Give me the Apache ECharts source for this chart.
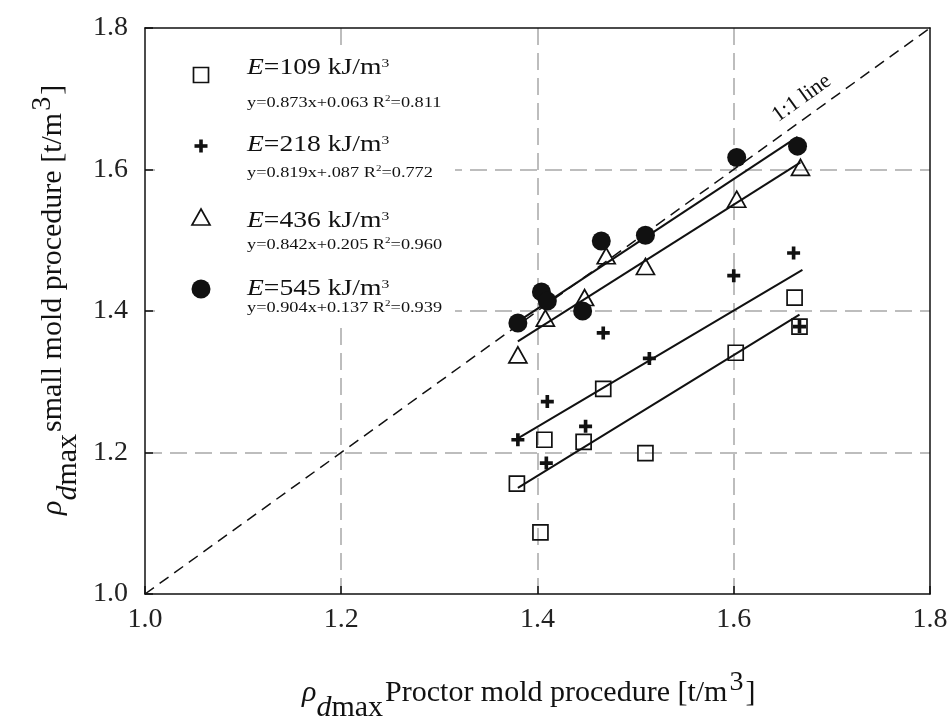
<!DOCTYPE html>
<html><head><meta charset="utf-8">
<script src="https://cdn.jsdelivr.net/npm/echarts@6/dist/echarts.min.js"></script>
<style>html,body{margin:0;padding:0;background:#fff}#c{width:952px;height:727px}</style>
</head><body><div id="c"></div>
<script>
// ---- data ----
const axisMin = 1.0, axisMax = 1.8, axisStep = 0.2;
const e109X = [1.379, 1.403, 1.407, 1.447, 1.467, 1.510, 1.602, 1.662, 1.667];
const e109Y = [1.156, 1.087, 1.218, 1.215, 1.290, 1.199, 1.341, 1.419, 1.378];
const e218X = [1.380, 1.409, 1.410, 1.449, 1.467, 1.514, 1.600, 1.661, 1.667];
const e218Y = [1.218, 1.185, 1.272, 1.237, 1.369, 1.333, 1.450, 1.482, 1.378];
const e436X = [1.380, 1.408, 1.448, 1.470, 1.510, 1.603, 1.668];
const e436Y = [1.338, 1.390, 1.419, 1.478, 1.463, 1.558, 1.603];
const e545X = [1.380, 1.404, 1.410, 1.446, 1.465, 1.510, 1.603, 1.665];
const e545Y = [1.383, 1.427, 1.414, 1.400, 1.499, 1.507, 1.617, 1.633];
const fit109X = [1.380, 1.667], fit109Y = [1.150, 1.395];
const fit218X = [1.380, 1.670], fit218Y = [1.220, 1.458];
const fit436X = [1.380, 1.668], fit436Y = [1.357, 1.610];
const fit545X = [1.380, 1.665], fit545Y = [1.385, 1.646];
const oneToOneX = [1.0, 1.8], oneToOneY = [1.0, 1.8];
const energyLabels = ['109', '218', '436', '545'];
const eqMain = ['y=0.873x+0.063 R', 'y=0.819x+.087 R', 'y=0.842x+0.205 R', 'y=0.904x+0.137 R'];
const eqR2 = ['=0.811', '=0.772', '=0.960', '=0.939'];
const oneToOneText = '1:1 line';

const zip = (xs, ys) => xs.map((x, i) => [x, ys[i]]);
const FF = '"Liberation Serif","Times New Roman",serif';
const mctx = document.createElement('canvas').getContext('2d');
function fontStr(p) { return (p.italic ? 'italic ' : '') + p.size + 'px ' + FF; }
function mw(p) { mctx.font = fontStr(p); return mctx.measureText(p.t).width; }
function piecesGroup(pieces, gx, gy, extra) {
  let x = 0; const children = [];
  for (const p of pieces) {
    x += (p.gap || 0);
    children.push({
      type: 'text', x: x, y: (p.dy || 0) - 0.34 * p.size, z: 10,
      style: { text: p.t, font: fontStr(p), fill: '#111', align: 'left', verticalAlign: 'middle',
               textAlign: 'left', textVerticalAlign: 'middle' }
    });
    x += mw(p);
  }
  return Object.assign({ type: 'group', x: gx, y: gy, z: 10, children: children }, extra || {});
}

const chart = echarts.init(document.getElementById('c'), null, { renderer: 'canvas' });
const axisLineStyle = { color: '#111', width: 1.5 };
const gridLineStyle = { color: '#bdbdbd', width: 2, type: [17, 8] };
const labelStyle = { fontSize: 28, fontFamily: FF, color: '#222', formatter: v => v.toFixed(1) };

function lineSeries(xs, ys, dashed) {
  return { type: 'line', data: zip(xs, ys), symbol: 'none', silent: true, z: 3,
    lineStyle: { color: '#111', width: dashed ? 1.5 : 2, type: dashed ? [11, 7] : 'solid', opacity: 1 } };
}
const plusPath = 'path://M0,3.6H3.6V0H6.4V3.6H10V6.4H6.4V10H3.6V6.4H0Z';

const option = {
  animation: false,
  backgroundColor: '#fff',
  grid: { left: 145, right: 22, top: 28, bottom: 133, containLabel: false, outerBoundsMode: 'none' },
  xAxis: [
    { type: 'value', min: axisMin, max: axisMax, interval: axisStep, position: 'bottom',
      axisLine: { lineStyle: axisLineStyle }, axisTick: { inside: true, length: 8, lineStyle: axisLineStyle },
      axisLabel: Object.assign({ margin: 12 }, labelStyle),
      splitLine: { show: true, showMinLine: false, showMaxLine: false, lineStyle: gridLineStyle } },
    { type: 'value', min: axisMin, max: axisMax, interval: axisStep, position: 'top',
      axisLine: { show: true, lineStyle: axisLineStyle }, axisTick: { show: false }, axisLabel: { show: false }, splitLine: { show: false } }
  ],
  yAxis: [
    { type: 'value', min: axisMin, max: axisMax, interval: axisStep, position: 'left',
      axisLine: { show: true, lineStyle: axisLineStyle }, axisTick: { show: true, inside: true, length: 8, lineStyle: axisLineStyle },
      axisLabel: Object.assign({ margin: 17 }, labelStyle),
      splitLine: { show: true, showMinLine: false, showMaxLine: false, lineStyle: gridLineStyle } },
    { type: 'value', min: axisMin, max: axisMax, interval: axisStep, position: 'right',
      axisLine: { show: true, lineStyle: axisLineStyle }, axisTick: { show: false }, axisLabel: { show: false }, splitLine: { show: false } }
  ],
  series: [
    lineSeries(oneToOneX, oneToOneY, true),
    lineSeries(fit109X, fit109Y),
    lineSeries(fit218X, fit218Y),
    lineSeries(fit436X, fit436Y),
    lineSeries(fit545X, fit545Y),
    { type: 'scatter', name: 'E=109', data: zip(e109X, e109Y), symbol: 'rect', symbolSize: 15, z: 4,
      itemStyle: { color: 'rgba(0,0,0,0)', borderColor: '#111', borderWidth: 1.7, opacity: 1 } },
    { type: 'scatter', name: 'E=218', data: zip(e218X, e218Y), symbol: plusPath, symbolSize: 13, z: 4,
      itemStyle: { color: '#111', opacity: 1 } },
    { type: 'scatter', name: 'E=436', data: zip(e436X, e436Y), symbol: 'triangle', symbolSize: [18, 16], z: 4,
      itemStyle: { color: 'rgba(0,0,0,0)', borderColor: '#111', borderWidth: 1.7, opacity: 1 } },
    { type: 'scatter', name: 'E=545', data: zip(e545X, e545Y), symbol: 'circle', symbolSize: 19, z: 4,
      itemStyle: { color: '#111', opacity: 1 } }
  ]
};
chart.setOption(option);

// ---- annotations ----
const graphics = [];
graphics.push({ type: 'rect', z: 1, shape: { x: 155, y: 45, width: 300, height: 280 }, style: { fill: '#fff' } });
const symX = 201, symY = [75, 146, 217, 289];
graphics.push({ type: 'rect', z: 10, shape: { x: symX - 7.5, y: symY[0] - 7.5, width: 15, height: 15 },
  style: { fill: 'none', stroke: '#111', lineWidth: 1.7 } });
graphics.push({ type: 'rect', z: 10, shape: { x: symX - 6.5, y: symY[1] - 1.8, width: 13, height: 3.6 }, style: { fill: '#111' } });
graphics.push({ type: 'rect', z: 10, shape: { x: symX - 1.8, y: symY[1] - 6.5, width: 3.6, height: 13 }, style: { fill: '#111' } });
graphics.push({ type: 'polygon', z: 10, shape: { points: [[symX, symY[2] - 8], [symX + 9, symY[2] + 8], [symX - 9, symY[2] + 8]] },
  style: { fill: 'none', stroke: '#111', lineWidth: 1.7 } });
graphics.push({ type: 'circle', z: 10, shape: { cx: symX, cy: symY[3], r: 9.5 }, style: { fill: '#111' } });
const eBase = [76, 153, 229, 297], eqBase = [108, 178, 250, 313];
for (let i = 0; i < 4; i++) {
  graphics.push(piecesGroup([
    { t: 'E', italic: true, size: 23 },
    { t: '=' + energyLabels[i] + ' kJ/m', size: 23 },
    { t: '3', size: 13, dy: -8 }
  ], 247, eBase[i], { scaleX: 1.2 }));
  graphics.push(piecesGroup([
    { t: eqMain[i], size: 15 },
    { t: '2', size: 9, dy: -6 },
    { t: eqR2[i], size: 15 }
  ], 247, eqBase[i], { scaleX: 1.22 }));
}
graphics.push(piecesGroup([
  { t: 'ρ', italic: true, size: 30 },
  { t: 'd', italic: true, size: 30, dy: 15 },
  { t: 'max', size: 30, dy: 15 },
  { t: 'Proctor mold procedure [t/m', size: 30, gap: 2 },
  { t: '3', size: 28, dy: -11, gap: 2 },
  { t: ']', size: 30, gap: 2 }
], 302, 703));
graphics.push(piecesGroup([
  { t: 'ρ', italic: true, size: 30 },
  { t: 'd', italic: true, size: 30, dy: 15 },
  { t: 'max', size: 30, dy: 15 },
  { t: 'small mold procedure [t/m', size: 30, gap: 2 },
  { t: '3', size: 28, dy: -11, gap: 2 },
  { t: ']', size: 30, gap: 2 }
], 63, 515, { rotation: Math.PI / 2 }));
const p0 = chart.convertToPixel({ gridIndex: 0 }, [1.68, 1.68]);
const pA = chart.convertToPixel({ gridIndex: 0 }, [1.0, 1.0]);
const pB = chart.convertToPixel({ gridIndex: 0 }, [1.8, 1.8]);
const ang = Math.atan2(pA[1] - pB[1], pB[0] - pA[0]);
const off = 18;
graphics.push({ type: 'text', z: 10, x: p0[0] - off * Math.sin(ang), y: p0[1] - off * Math.cos(ang), rotation: ang,
  style: { text: oneToOneText, font: '22px ' + FF, fill: '#111', align: 'center', verticalAlign: 'middle',
           textAlign: 'center', textVerticalAlign: 'middle' } });
chart.setOption({ graphic: { elements: graphics } });
</script></body></html>
